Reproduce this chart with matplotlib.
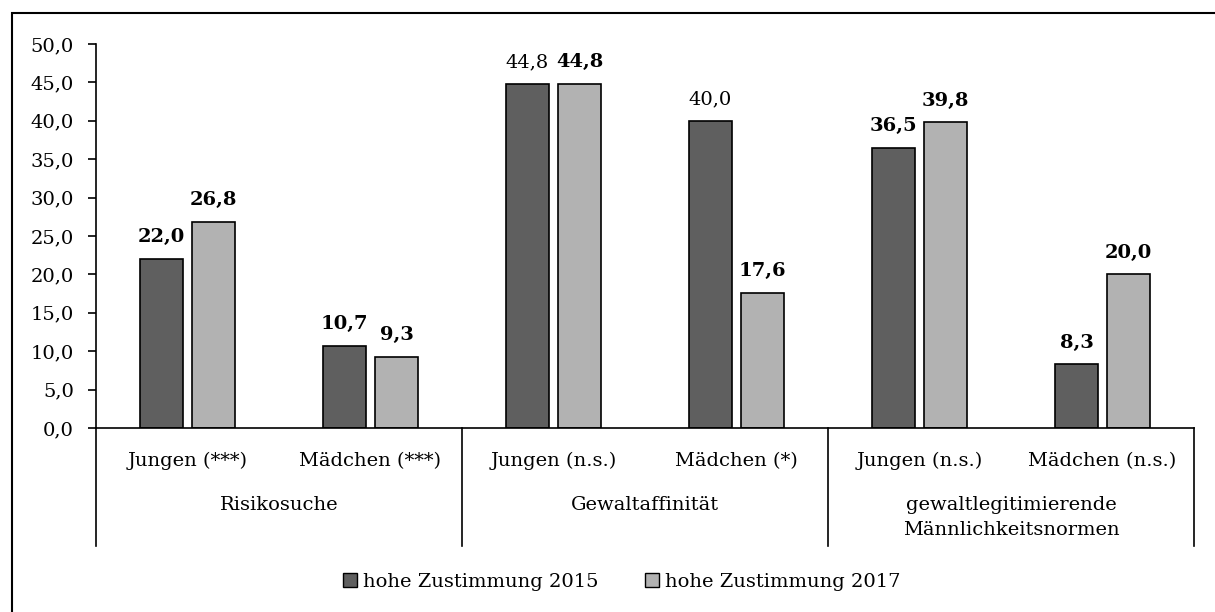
import numpy as np
import matplotlib
matplotlib.use("Agg")
import matplotlib.pyplot as plt
import matplotlib.transforms as mtransforms
from matplotlib.patches import Patch, Rectangle

plt.rcParams["font.family"] = "DejaVu Serif"
plt.rcParams["font.size"] = 14

# Chart data
subgroups = ["Jungen (***)", "Mädchen (***)", "Jungen (n.s.)",
             "Mädchen (*)", "Jungen (n.s.)", "Mädchen (n.s.)"]
groups = ["Risikosuche", "Gewaltaffinität",
          "gewaltlegitimierende\nMännlichkeitsnormen"]
values_2015 = [22.0, 10.7, 44.8, 40.0, 36.5, 8.3]
values_2017 = [26.8, 9.3, 44.8, 17.6, 39.8, 20.0]
bold_2015 = [True, True, False, False, True, True]
bold_2017 = [True, True, True, True, True, True]
series_labels = ["hohe Zustimmung 2015", "hohe Zustimmung 2017"]
y_ticks = [0, 5, 10, 15, 20, 25, 30, 35, 40, 45, 50]

color_2015 = "#5f5f5f"
color_2017 = "#b2b2b2"


def fmt(v):
    return f"{v:.1f}".replace(".", ",")


fig = plt.figure(figsize=(12.15, 6.12), dpi=100)
ax = fig.add_axes([0.079, 0.3007, 0.9037, 0.6275])

x = np.arange(len(subgroups))
bar_w = 0.23
bars1 = ax.bar(x - 0.142, values_2015, width=bar_w, color=color_2015,
               edgecolor="black", linewidth=1.2)
bars2 = ax.bar(x + 0.142, values_2017, width=bar_w, color=color_2017,
               edgecolor="black", linewidth=1.2)

# value labels above the bars
for bars, vals, bolds in [(bars1, values_2015, bold_2015),
                          (bars2, values_2017, bold_2017)]:
    for rect, v, b in zip(bars, vals, bolds):
        ax.annotate(fmt(v), (rect.get_x() + rect.get_width() / 2, v),
                    xytext=(0, 12), textcoords="offset points",
                    ha="center", va="baseline",
                    fontweight="bold" if b else "normal")

ax.set_xlim(-0.5, len(subgroups) - 0.5)
ax.set_ylim(0, 50)
ax.set_yticks(y_ticks)
ax.set_yticklabels([fmt(t) for t in y_ticks])
ax.tick_params(axis="y", direction="out", length=6, width=1.2, pad=10)
ax.set_xticks([])
for side in ["top", "right"]:
    ax.spines[side].set_visible(False)
ax.spines["left"].set_linewidth(1.2)
ax.spines["bottom"].set_linewidth(1.2)

# two-level category axis
trans = mtransforms.blended_transform_factory(ax.transData, ax.transAxes)
for i, lab in enumerate(subgroups):
    ax.text(i, -0.086, lab, transform=trans, ha="center", va="center")
for g, lab in enumerate(groups):
    ax.text(2 * g + 0.5, -0.178, lab, transform=trans, ha="center",
            va="top", linespacing=1.45)
for xs in [-0.5, 1.5, 3.5, 5.5]:
    ax.plot([xs, xs], [0, -0.307], transform=trans, color="black",
            lw=1.2, clip_on=False)

# legend at the bottom
handles = [Patch(facecolor=color_2015, edgecolor="black", linewidth=1.0),
           Patch(facecolor=color_2017, edgecolor="black", linewidth=1.0)]
fig.legend(handles, series_labels, loc="center", bbox_to_anchor=(0.512, 0.049),
           ncol=2, frameon=False, handlelength=0.72, handleheight=0.72,
           handletextpad=0.3, columnspacing=2.4)

# outer chart frame (cut off at right and bottom as in the source)
fig.add_artist(Rectangle((12 / 1215, -0.1), 1.2, 1.0788,
                         transform=fig.transFigure, fill=False,
                         edgecolor="black", linewidth=1.5))

fig.savefig("out.png", dpi=100)
